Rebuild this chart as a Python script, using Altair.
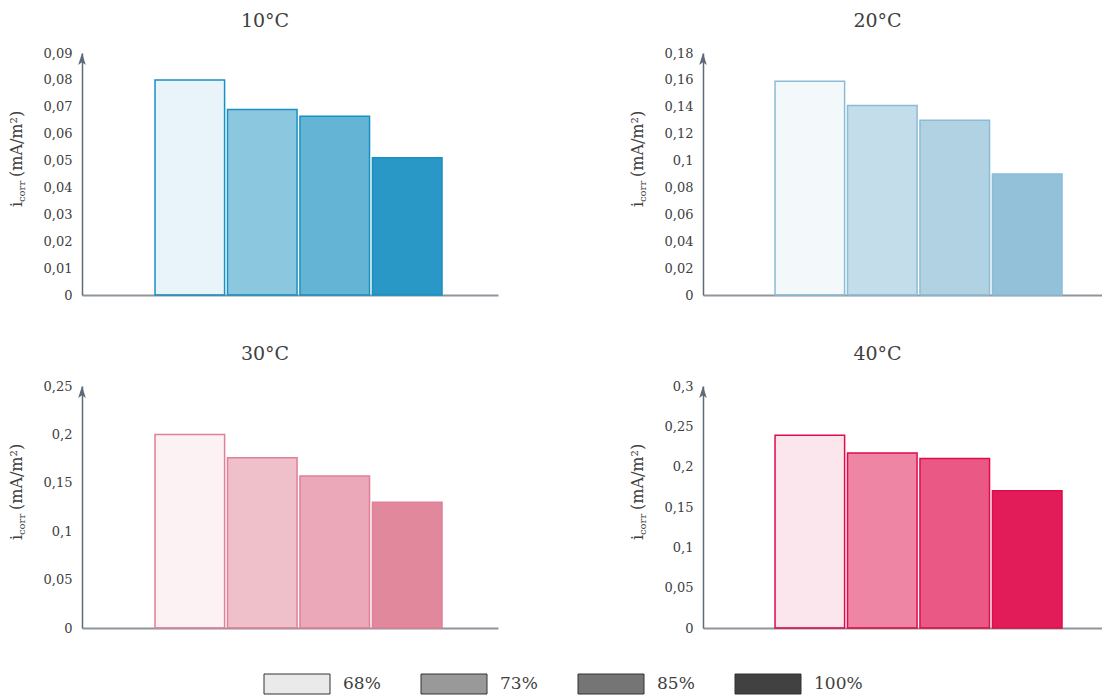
import altair as alt
import pandas as pd

# ---------------- data ----------------
humidity = ["68%", "73%", "85%", "100%"]
temperatures = ["10°C", "20°C", "30°C", "40°C"]
icorr_10 = [0.080, 0.069, 0.0665, 0.051]
icorr_20 = [0.159, 0.141, 0.130, 0.090]
icorr_30 = [0.200, 0.176, 0.157, 0.130]
icorr_40 = [0.239, 0.217, 0.210, 0.170]
y_max = [0.09, 0.18, 0.25, 0.3]
ticks_10 = [0, 0.01, 0.02, 0.03, 0.04, 0.05, 0.06, 0.07, 0.08, 0.09]
ticks_20 = [0, 0.02, 0.04, 0.06, 0.08, 0.1, 0.12, 0.14, 0.16, 0.18]
ticks_30 = [0, 0.05, 0.1, 0.15, 0.2, 0.25]
ticks_40 = [0, 0.05, 0.1, 0.15, 0.2, 0.25, 0.3]

values = [icorr_10, icorr_20, icorr_30, icorr_40]
ticks = [ticks_10, ticks_20, ticks_30, ticks_40]

# ---------------- style ----------------
FONT = "DejaVu Serif"
TEXT = "#404040"
AXIS_Y = "#5d6b78"
AXIS_X = "#8f959a"
colors = ["#1a90c2", "#8abcd6", "#e07f96", "#e00b4b"]
shade = [0.1, 0.5, 0.68, 0.93]
ARROW = "M0,0L0.6,1.9L0,1.45L-0.6,1.9Z"

opacity_enc = alt.FillOpacity(
    "humidity:O", sort=humidity,
    scale=alt.Scale(type="ordinal", domain=humidity, range=shade),
    legend=None,
)


def panel(k, width, pad_outer, align):
    color = colors[k]
    df = pd.DataFrame({"humidity": humidity, "icorr": values[k]})
    xenc = alt.X(
        "humidity:N", sort=humidity, title=None,
        scale=alt.Scale(paddingInner=0.04, paddingOuter=pad_outer, align=align),
        axis=alt.Axis(labels=False, ticks=False, grid=False,
                      domainColor=AXIS_X, domainWidth=2),
    )
    yenc = alt.Y(
        "icorr:Q", title=None,
        scale=alt.Scale(domain=[0, y_max[k]], nice=False, zero=True),
        axis=alt.Axis(values=ticks[k], ticks=False, grid=False,
                      domainColor=AXIS_Y, domainWidth=1.5,
                      labelFont=FONT, labelFontSize=13, labelColor=TEXT,
                      labelPadding=10,
                      labelExpr="replace(format(datum.value, '~g'), '.', ',')"),
    )
    bars = alt.Chart(df).mark_bar(fill=color, stroke=color, strokeWidth=1.5).encode(
        x=xenc, y=yenc, fillOpacity=opacity_enc,
    )
    arrow = alt.Chart(pd.DataFrame({"icorr": [y_max[k]]})).mark_point(
        shape=ARROW, filled=True, fill=AXIS_Y, size=160, opacity=1
    ).encode(x=alt.value(0), y=yenc)

    def txt(s, size, x, y):
        return alt.Chart(pd.DataFrame({"t": [s]})).mark_text(
            angle=270, align="left", baseline="middle", font=FONT,
            fontSize=size, color=TEXT
        ).encode(text="t:N", x=alt.value(x), y=alt.value(y))

    t_i = txt("i", 16, -65, 154)
    t_sub = txt("corr", 10, -60, 149)
    t_unit = txt("(mA/m²)", 16, -65, 124)

    return alt.layer(bars, arrow, t_i, t_sub, t_unit).properties(
        width=width, height=242,
        title=alt.TitleParams(
            temperatures[k], font=FONT, fontSize=19, fontWeight="normal",
            color=TEXT, anchor="middle", frame="group", dx=-25, offset=16),
    )


p1 = panel(0, 416, 0.89, 0.566)
p2 = panel(1, 399, 0.773, 0.643)
p3 = panel(2, 416, 0.89, 0.566)
p4 = panel(3, 399, 0.773, 0.643)

# ---------------- legend (drawn as its own small view) ----------------
leg_df = pd.DataFrame({"humidity": humidity})
leg_x = alt.X("humidity:N", sort=humidity, axis=None,
              scale=alt.Scale(range=[163, 791], paddingInner=0, paddingOuter=0))
leg_sym = alt.Chart(leg_df).mark_bar(
    width=66, xOffset=-26.5, fill="#333333", stroke="#333333", strokeWidth=1
).encode(x=leg_x, y=alt.value(0), y2=alt.value(20), fillOpacity=opacity_enc)
leg_txt = alt.Chart(leg_df).mark_text(
    align="left", baseline="middle", dx=19.5, font=FONT, fontSize=17, color=TEXT
).encode(x=leg_x, y=alt.value(10), text="humidity:N")
legend_view = alt.layer(leg_sym, leg_txt).properties(width=900, height=20)

chart = alt.vconcat(
    alt.hconcat(p1, p2, spacing=132),
    alt.vconcat(
        alt.hconcat(p3, p4, spacing=132),
        legend_view,
        spacing=38,
    ),
    spacing=43,
).resolve_scale(fillOpacity="shared").properties(
    padding={"left": 1, "top": 4, "right": 0, "bottom": 0}
).configure(font=FONT).configure_view(stroke=None)

chart.save("out.html", embed_options={"renderer": "svg", "actions": False})
